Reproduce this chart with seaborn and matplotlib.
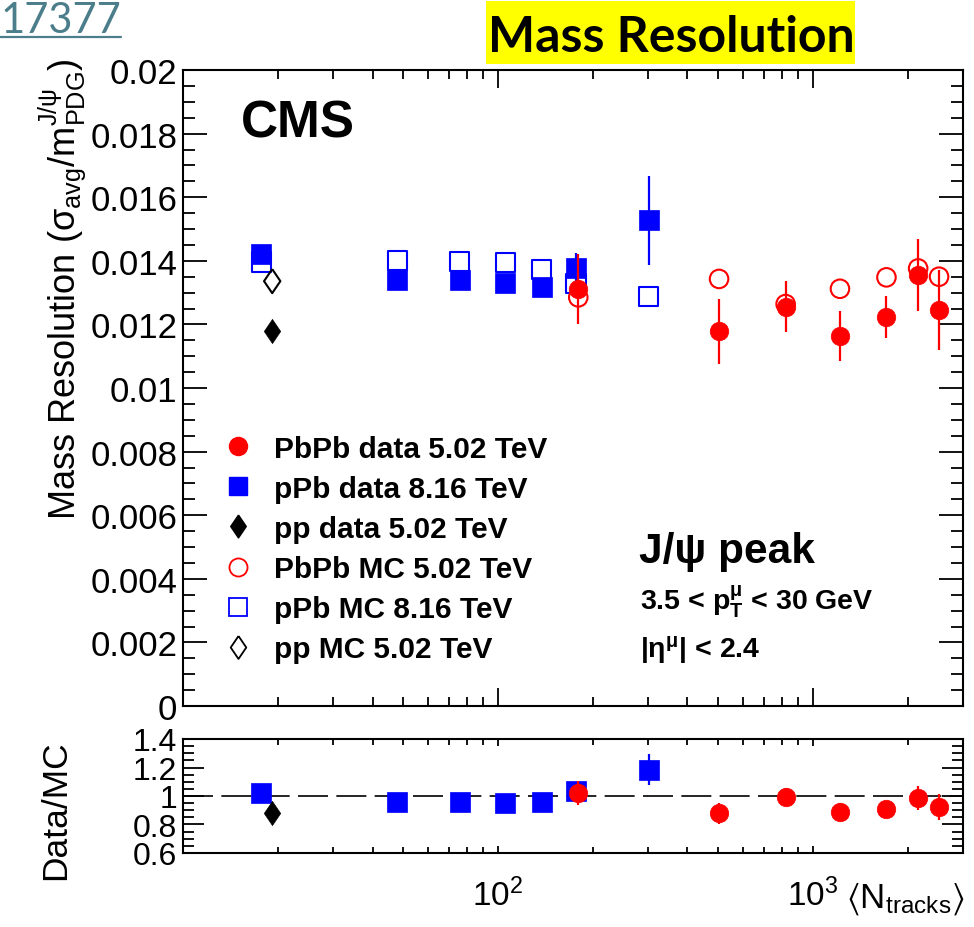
import numpy as np
import pandas as pd
import matplotlib
matplotlib.use("Agg")
import matplotlib.pyplot as plt
import seaborn as sns
from matplotlib.lines import Line2D
from matplotlib.patches import Rectangle
from matplotlib.ticker import FixedLocator, MultipleLocator, FuncFormatter, NullFormatter

# ---- J/psi mass resolution vs <N_tracks> ----
# PbPb 5.02 TeV
pbpb_ntrk = [180, 504, 820, 1220, 1714, 2161, 2518]
pbpb_data = [0.01311, 0.01179, 0.01256, 0.01164, 0.01223, 0.01356, 0.01244]
pbpb_err = [0.00110, 0.00102, 0.00080, 0.00079, 0.00065, 0.00114, 0.00126]
pbpb_mc = [0.01285, 0.01343, 0.01264, 0.01312, 0.01348, 0.01376, 0.01350]

# pPb 8.16 TeV
ppb_ntrk = [17.7, 47.9, 75.7, 105.5, 138, 177, 301]
ppb_data = [0.01421, 0.01339, 0.01339, 0.01329, 0.01317, 0.01378, 0.01527]
ppb_err = [0.00020, 0.00020, 0.00020, 0.00020, 0.00020, 0.00046, 0.00140]
ppb_mc = [0.01396, 0.01401, 0.01398, 0.01394, 0.01373, 0.01328, 0.01288]

# pp 5.02 TeV
pp_ntrk = [19.2]
pp_data = [0.01179]
pp_err = [0.00015]
pp_mc = [0.01336]

legend_labels = ["PbPb data 5.02 TeV", "pPb data 8.16 TeV", "pp data 5.02 TeV",
                 "PbPb MC 5.02 TeV", "pPb MC 8.16 TeV", "pp MC 5.02 TeV"]

RED, BLUE, BLACK = "#ff0000", "#0000ff", "#000000"

sns.set_theme(style="ticks")
plt.rcParams["font.family"] = ["Liberation Sans", "DejaVu Sans"]
plt.rcParams.update({
    "mathtext.fontset": "custom",
    "mathtext.rm": "Liberation Sans",
    "mathtext.it": "Liberation Sans:italic",
    "mathtext.bf": "Liberation Sans:bold",
    "mathtext.default": "regular",
    "axes.linewidth": 1.5,
    "text.color": "black",
    "axes.labelcolor": "black",
    "axes.edgecolor": "black",
    "xtick.color": "black",
    "ytick.color": "black",
    "xtick.labelcolor": "black",
    "ytick.labelcolor": "black",
})

W, H = 974, 928
fig = plt.figure(figsize=(W / 100, H / 100), dpi=100)


def fx(x):
    return x / W


def fy(y):
    return 1 - y / H


ax = fig.add_axes([fx(183), fy(707), fx(963) - fx(183), fy(71) - fy(707)])
axr = fig.add_axes([fx(183), fy(854), fx(963) - fx(183), fy(740) - fy(854)], sharex=ax)

diamond = [(0, 1), (0.68, 0), (0, -1), (-0.68, 0), (0, 1)]

df = pd.DataFrame({
    "ntrk": pbpb_ntrk + ppb_ntrk + pp_ntrk,
    "data": pbpb_data + ppb_data + pp_data,
    "err": pbpb_err + ppb_err + pp_err,
    "mc": pbpb_mc + ppb_mc + pp_mc,
    "system": ["PbPb"] * len(pbpb_ntrk) + ["pPb"] * len(ppb_ntrk) + ["pp"] * len(pp_ntrk),
})
df["ratio"] = df["data"] / df["mc"]
df["ratio_err"] = df["err"] / df["mc"]

style = {
    "PbPb": dict(color=RED, marker="o", s=178, z=6),
    "pPb": dict(color=BLUE, marker="s", s=190, z=4),
    "pp": dict(color=BLACK, marker=diamond, s=300, z=5),
}

for sysname in ["pPb", "pp", "PbPb"]:
    st = style[sysname]
    sub = df[df["system"] == sysname]
    # MC: open markers
    sns.scatterplot(data=sub, x="ntrk", y="mc", ax=ax, marker=st["marker"], s=st["s"],
                    color=st["color"], facecolor="none", edgecolor=st["color"],
                    linewidth=1.5, zorder=st["z"] - 1, legend=False)
    # data: error bars + filled markers
    ax.errorbar(sub["ntrk"], sub["data"], yerr=sub["err"], fmt="none",
                ecolor=st["color"], elinewidth=1.6, capsize=0, zorder=st["z"])
    sns.scatterplot(data=sub, x="ntrk", y="data", ax=ax, marker=st["marker"], s=st["s"],
                    color=st["color"], edgecolor=st["color"], linewidth=0.5,
                    zorder=st["z"] + 0.5, legend=False)
    # ratio panel
    axr.errorbar(sub["ntrk"], sub["ratio"], yerr=sub["ratio_err"], fmt="none",
                 ecolor=st["color"], elinewidth=1.6, capsize=0, zorder=st["z"])
    sns.scatterplot(data=sub, x="ntrk", y="ratio", ax=axr, marker=st["marker"], s=st["s"],
                    color=st["color"], edgecolor=st["color"], linewidth=0.5,
                    zorder=st["z"] + 0.5, legend=False)

axr.axhline(1.0, color="black", lw=1.2, ls=(0, (18, 5)), zorder=1)

# axes ranges and ticks
ax.set_xscale("log")
ax.set_xlim(10, 3000)
ax.set_ylim(0, 0.02)
axr.set_ylim(0.6, 1.4)

minor_x = [k * 10 ** d for d in (1, 2, 3) for k in range(2, 10)]
for a in (ax, axr):
    a.xaxis.set_major_locator(FixedLocator([100, 1000]))
    a.xaxis.set_minor_locator(FixedLocator(minor_x))
    a.xaxis.set_minor_formatter(NullFormatter())
    a.set_xlabel("")
    a.set_ylabel("")
    a.tick_params(which="both", direction="in", top=True, right=True, width=1.3, colors="black")
    for sp in a.spines.values():
        sp.set_linewidth(1.5)
        sp.set_color("black")

gfmt = FuncFormatter(lambda v, p: "%g" % round(v, 6))
ax.yaxis.set_major_locator(MultipleLocator(0.002))
ax.yaxis.set_minor_locator(MultipleLocator(0.0005))
ax.yaxis.set_major_formatter(gfmt)
ax.tick_params(axis="y", which="major", length=17, labelsize=25, pad=4)
ax.tick_params(axis="y", which="minor", length=8.5)
ax.tick_params(axis="x", which="major", length=13, labelbottom=False)
ax.tick_params(axis="x", which="minor", length=6.5)

axr.yaxis.set_major_locator(FixedLocator([0.6, 0.8, 1.0, 1.2, 1.4]))
axr.yaxis.set_minor_locator(MultipleLocator(0.05))
axr.yaxis.set_major_formatter(gfmt)
axr.xaxis.set_major_formatter(FuncFormatter(lambda v, p: r"$10^{%d}$" % round(np.log10(v))))
axr.tick_params(axis="y", which="major", length=15, labelsize=23, pad=4)
axr.tick_params(axis="y", which="minor", length=8)
axr.tick_params(axis="x", which="major", length=5, labelsize=24, pad=18)
axr.tick_params(axis="x", which="minor", length=4)

# legend
handles = [
    Line2D([], [], ls="none", marker="o", ms=13, color=RED, mec=RED),
    Line2D([], [], ls="none", marker="s", ms=13, color=BLUE, mec=BLUE),
    Line2D([], [], ls="none", marker=diamond, ms=16.5, color=BLACK, mec=BLACK),
    Line2D([], [], ls="none", marker="o", ms=13, mfc="none", mec=RED, mew=1.3),
    Line2D([], [], ls="none", marker="s", ms=13, mfc="none", mec=BLUE, mew=1.3),
    Line2D([], [], ls="none", marker=diamond, ms=16.5, mfc="none", mec=BLACK, mew=1.3),
]
leg = ax.legend(handles, legend_labels, loc="upper left", bbox_to_anchor=(0.051, 0.4265),
                frameon=False, borderpad=0, borderaxespad=0, handlelength=1.0,
                handletextpad=0.70, labelspacing=0.405,
                prop={"family": "Liberation Sans", "weight": "bold", "size": 21.5})
for t in leg.get_texts():
    t.set_color("black")

# labels and annotations
fig.text(fx(62), fy(58), r"Mass Resolution ($\sigma_{avg}/m_{PDG}^{J/\psi}$)", rotation=90,
         ha="center", va="top", fontsize=26)
fig.text(fx(56), fy(740), "Data/MC", rotation=90, ha="center", va="top", fontsize=25.5)
fig.text(fx(964), fy(908), r"$\langle N_{tracks}\rangle$", ha="right", va="baseline", fontsize=25)

fig.text(fx(241), fy(138), "CMS", fontsize=37, weight="bold", va="baseline")
fig.text(fx(639), fy(563), "J/ψ peak", fontsize=30.5, weight="bold", va="baseline")
fig.text(fx(640), fy(610), r"3.5 < p$_{\mathbf{T}}^{\mu}$ < 30 GeV", fontsize=20.5, weight="bold",
         va="baseline")
fig.text(fx(640), fy(658), r"|$\eta^{\mu}$| < 2.4", fontsize=20.5, weight="bold", va="baseline")

# slide header
fig.patches.append(Rectangle((fx(486), fy(65)), fx(855) - fx(486), fy(2) - fy(65),
                             transform=fig.transFigure, facecolor="#ffff00", edgecolor="none"))
fig.text(fx(671), fy(52), "Mass Resolution", ha="center", va="baseline", fontsize=36,
         family=["Lato", "DejaVu Sans"], weight="bold", color="black")
link_color = "#4b7d8b"
fig.text(fx(121), fy(33), "17377", ha="right", va="baseline", fontsize=30,
         family=["Lato", "DejaVu Sans"], color=link_color)
fig.add_artist(Line2D([0, fx(121)], [fy(37.5), fy(37.5)], color=link_color, lw=1.6,
                      transform=fig.transFigure))

fig.savefig("out.png", dpi=100)
